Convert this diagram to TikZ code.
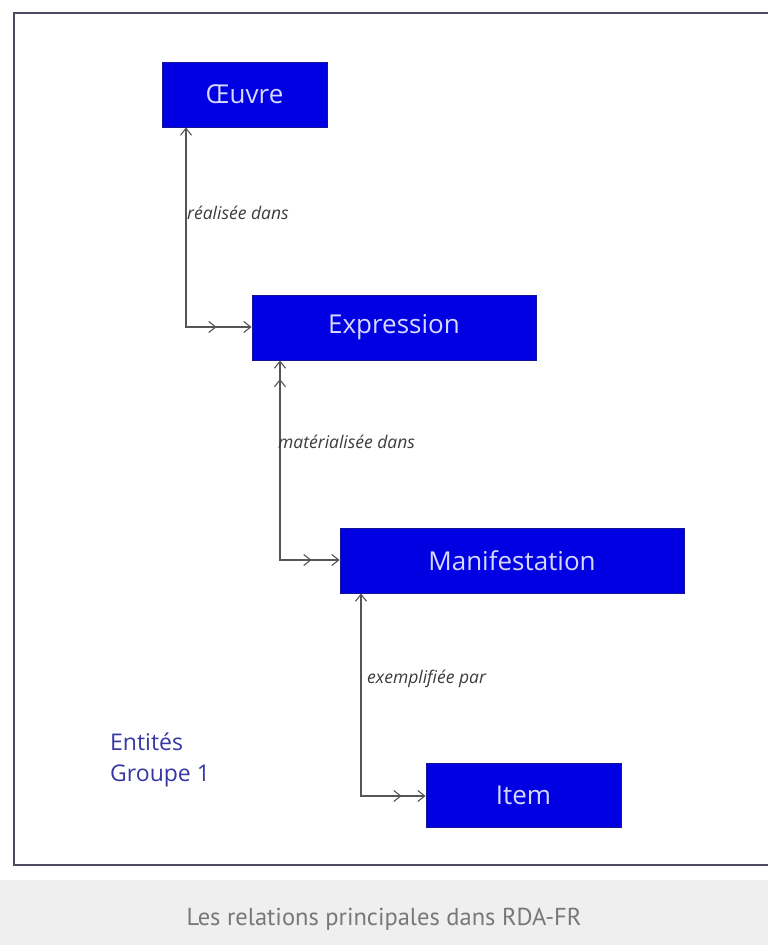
\documentclass[tikz,border=0pt]{standalone}
\usepackage{fontspec}
\setmainfont{Open Sans}
\newfontfamily\capfont{PT Sans}
\usetikzlibrary{arrows.meta,decorations.markings}
\definecolor{entblue}{RGB}{0,0,226}
\definecolor{entborder}{RGB}{20,20,150}
\definecolor{enttext}{RGB}{215,215,255}
\definecolor{linegray}{RGB}{85,85,85}
\definecolor{labgray}{RGB}{60,60,60}
\definecolor{framecol}{RGB}{75,75,100}
\definecolor{capbg}{RGB}{239,239,239}
\definecolor{captext}{RGB}{120,120,120}
\definecolor{groupblue}{RGB}{55,55,165}
\tikzset{
  entity/.style={draw=entborder, line width=0.8pt, fill=entblue, text=enttext,
    font=\fontsize{26}{30}\selectfont, inner sep=0pt},
  conn/.style={draw=linegray, line width=1.3pt,
    arrows={Straight Barb[length=7pt,width=11pt,line width=1.1pt]-Straight Barb[length=7pt,width=11pt,line width=1.1pt]}},
  relabel/.style={font=\itshape\fontsize{17.5}{20}\selectfont, text=labgray, anchor=west, inner sep=0pt},
  midtip/.style={postaction={decorate, decoration={markings,
    mark=at position #1 with {\arrow{Straight Barb[length=7pt,width=11pt,line width=1.1pt]}}}}},
  midtiprev/.style={postaction={decorate, decoration={markings,
    mark=at position #1 with {\arrow{Straight Barb[length=7pt,width=11pt,line width=1.1pt,reversed]}}}}}
}
\begin{document}
\begin{tikzpicture}[x=1pt,y=-1pt]
\useasboundingbox (0,0) rectangle (768,945);
\fill[white] (0,0) rectangle (768,945);
% caption band
\fill[capbg] (0,880) rectangle (768,945);
\node[font=\capfont\fontsize{24.5}{28}\selectfont, text=captext] (caption) at (384,919) {Les relations principales dans RDA-FR};
% frame
\draw[framecol, line width=2pt] (775,12.5) -- (13.5,12.5) -- (13.5,865) -- (775,865);

% entities
\node[entity, minimum width=165pt, minimum height=65pt] (oeuvre) at (244.5,94.5) {Œuvre};
\node[entity, minimum width=284pt, minimum height=65pt] (expr) at (394,327.5) {Expression};
\node[entity, minimum width=344pt, minimum height=65pt] (manif) at (512,560.5) {Manifestation};
\node[entity, minimum width=195pt, minimum height=64pt] (item) at (523.5,795) {Item};

% corners
\coordinate (k1) at (186,327);
\coordinate (k2) at (280,560);
\coordinate (k3) at (361,796);

% connectors
\draw[conn, midtip=-35pt] (oeuvre.south -| k1) -- (k1) -- (expr.west |- k1);
\draw[conn, midtip=-28pt, midtiprev=27pt] (expr.south -| k2) -- (k2) -- (manif.west |- k2);
\draw[conn, midtip=-24pt] (manif.south -| k3) -- (k3) -- (item.west |- k3);

% relation labels
\node[relabel] (l1) at (187,213) {réalisée dans};
\node[relabel] (l2) at (278,442) {matérialisée dans};
\node[relabel] (l3) at (367,679) {exemplifiée par};

% group label
\node[font=\fontsize{23}{31}\selectfont, text=groupblue, align=left, anchor=north west, inner sep=0pt] (grp) at (110,733) {Entités\\Groupe 1};
\end{tikzpicture}
\end{document}
